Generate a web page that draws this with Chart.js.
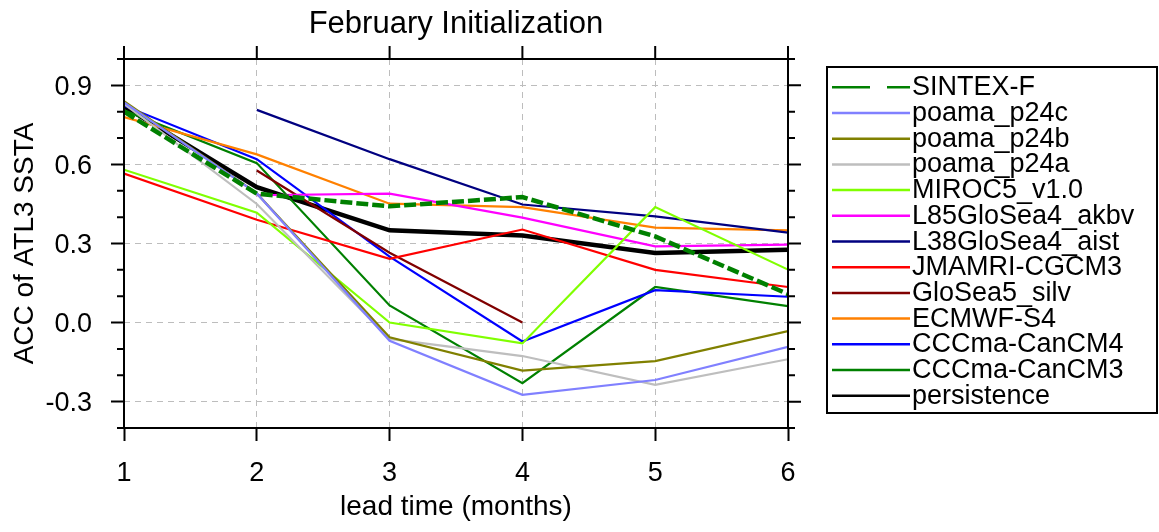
<!DOCTYPE html>
<html>
<head>
<meta charset="utf-8">
<script src="https://cdn.jsdelivr.net/npm/chart.js@4.4.1/dist/chart.umd.min.js"></script>
<style>
  html, body { margin: 0; padding: 0; background: #fff; }
  canvas { display: block; }
</style>
</head>
<body>
<canvas id="accChart" width="1159" height="532"></canvas>
<script>
// lead times (months) and tick values
const leadTimes = [1, 2, 3, 4, 5, 6];
const yTickValues = [-0.3, 0.0, 0.3, 0.6, 0.9];
const yMinorTicks = [-0.4, -0.2, -0.1, 0.1, 0.2, 0.4, 0.5, 0.7, 0.8, 1.0];

// ACC values (null = no forecast at that lead)
const sintexF      = [0.80, 0.489, 0.441, 0.476, 0.327, 0.108];
const poamaP24c    = [0.835, 0.49, -0.069, -0.274, -0.218, -0.092];
const poamaP24b    = [0.84, 0.49, -0.056, -0.182, -0.146, -0.032];
const poamaP24a    = [0.83, 0.45, -0.062, -0.127, -0.236, -0.139];
const miroc5       = [0.58, 0.417, 0.0, -0.079, 0.438, 0.201];
const l85GloSea4   = [null, 0.483, 0.489, 0.398, 0.289, 0.296];
const l38GloSea4   = [null, 0.807, 0.62, 0.448, 0.403, 0.341];
const jmamri       = [0.565, 0.39, 0.242, 0.353, 0.20, 0.135];
const gloSea5      = [null, 0.577, 0.265, 0.0, null, null];
const ecmwf        = [0.78, 0.638, 0.451, 0.438, 0.36, 0.35];
const canCM4       = [0.823, 0.62, 0.25, -0.072, 0.123, 0.098];
const canCM3       = [0.805, 0.605, 0.065, -0.23, 0.135, 0.062];
const persistence  = [0.82, 0.514, 0.35, 0.33, 0.264, 0.276];

const FONT = "'Liberation Sans', Arial, Helvetica, sans-serif";

// Function to turn a value list into {x, y} points
function toPoints(values) {
    return values.map((v, i) => ({ x: leadTimes[i], y: v }));
}

// Function to build one line dataset
function makeSeries(label, values, color, width, dash, legendDash) {
    return {
        label: label,
        data: toPoints(values),
        borderColor: color,
        backgroundColor: color,
        borderWidth: width,
        borderDash: dash,
        legendDash: legendDash,
        pointRadius: 0,
        fill: false,
        spanGaps: false,
    };
}

// legend order (first one is drawn on top)
const datasets = [
    makeSeries('SINTEX-F', sintexF, '#008000', 4.5, [12, 4], [38, 17]),
    makeSeries('poama_p24c', poamaP24c, '#8080ff', 2.2, [], []),
    makeSeries('poama_p24b', poamaP24b, '#808000', 2.2, [], []),
    makeSeries('poama_p24a', poamaP24a, '#bebebe', 2.2, [], []),
    makeSeries('MIROC5_v1.0', miroc5, '#80ff00', 2.2, [], []),
    makeSeries('L85GloSea4_akbv', l85GloSea4, '#ff00ff', 2.2, [], []),
    makeSeries('L38GloSea4_aist', l38GloSea4, '#000080', 2.2, [], []),
    makeSeries('JMAMRI-CGCM3', jmamri, '#ff0000', 2.2, [], []),
    makeSeries('GloSea5_silv', gloSea5, '#800000', 2.2, [], []),
    makeSeries('ECMWF-S4', ecmwf, '#ff8000', 2.2, [], []),
    makeSeries('CCCma-CanCM4', canCM4, '#0000ff', 2.2, [], []),
    makeSeries('CCCma-CanCM3', canCM3, '#008000', 2.2, [], []),
    makeSeries('persistence', persistence, '#000000', 4.5, [], []),
];

// Plugin: frame, outward ticks on all sides, title and boxed legend
const ncarFrame = {
    id: 'ncarFrame',
    afterDraw(chart) {
        const ctx = chart.ctx;
        const a = chart.chartArea;
        const xs = chart.scales.x;
        const ys = chart.scales.y;
        ctx.save();
        ctx.strokeStyle = '#000';
        ctx.lineWidth = 2;
        ctx.setLineDash([]);
        ctx.strokeRect(a.left, a.top, a.right - a.left, a.bottom - a.top);

        ctx.beginPath();
        // top ticks
        leadTimes.forEach(v => {
            const px = xs.getPixelForValue(v);
            ctx.moveTo(px, a.top);
            ctx.lineTo(px, a.top - 13);
        });
        // right major ticks
        yTickValues.forEach(v => {
            const py = ys.getPixelForValue(v);
            ctx.moveTo(a.right, py);
            ctx.lineTo(a.right + 13, py);
        });
        // minor ticks left and right
        yMinorTicks.forEach(v => {
            const py = ys.getPixelForValue(v);
            ctx.moveTo(a.left, py);
            ctx.lineTo(a.left - 7, py);
            ctx.moveTo(a.right, py);
            ctx.lineTo(a.right + 7, py);
        });
        ctx.stroke();

        // title
        ctx.fillStyle = '#000';
        ctx.font = '31px ' + FONT;
        ctx.textAlign = 'center';
        ctx.textBaseline = 'alphabetic';
        ctx.fillText('February Initialization', (a.left + a.right) / 2, 33);

        // legend box
        const box = { left: 827, top: 67, right: 1157, bottom: 413 };
        ctx.strokeRect(box.left, box.top, box.right - box.left, box.bottom - box.top);
        ctx.font = '27px ' + FONT;
        ctx.textAlign = 'left';
        chart.data.datasets.forEach((ds, i) => {
            const rowY = 87.3 + i * 25.7;
            ctx.beginPath();
            ctx.strokeStyle = ds.borderColor;
            ctx.lineWidth = 2.5;
            ctx.setLineDash(ds.legendDash);
            ctx.moveTo(832, rowY);
            ctx.lineTo(910, rowY);
            ctx.stroke();
            ctx.setLineDash([]);
            ctx.fillText(ds.label, 912, rowY + 8);
        });
        ctx.restore();
    }
};

const ctx = document.getElementById('accChart').getContext('2d');
new Chart(ctx, {
    type: 'line',
    data: { datasets: datasets },
    options: {
        responsive: false,
        animation: false,
        layout: { padding: { left: 0, top: 59, right: 371, bottom: 0 } },
        elements: { line: { tension: 0 } },
        plugins: {
            legend: { display: false },
            title: { display: false },
            tooltip: { enabled: false },
        },
        scales: {
            x: {
                type: 'linear',
                min: 1,
                max: 6,
                afterBuildTicks: s => { s.ticks = leadTimes.map(v => ({ value: v })); },
                afterFit: s => { s.height = 104; },
                border: { display: false, dash: [6, 5] },
                grid: {
                    color: '#bdbdbd',
                    lineWidth: 1,
                    drawTicks: true,
                    tickLength: 13,
                    tickColor: '#000',
                    tickWidth: 2,
                },
                ticks: {
                    color: '#000',
                    font: { family: FONT, size: 27 },
                    padding: 16,
                    maxRotation: 0,
                    callback: v => String(v),
                },
                title: {
                    display: true,
                    text: 'lead time (months)',
                    color: '#000',
                    font: { family: FONT, size: 28 },
                    padding: { top: 0, bottom: 8 },
                },
            },
            y: {
                type: 'linear',
                min: -0.4,
                max: 1.0,
                afterBuildTicks: s => { s.ticks = yTickValues.map(v => ({ value: v })); },
                afterFit: s => { s.width = 124; },
                border: { display: false, dash: [6, 5] },
                grid: {
                    color: '#bdbdbd',
                    lineWidth: 1,
                    drawTicks: true,
                    tickLength: 13,
                    tickColor: '#000',
                    tickWidth: 2,
                },
                ticks: {
                    color: '#000',
                    font: { family: FONT, size: 27 },
                    padding: 19,
                    labelOffset: 2,
                    callback: v => v.toFixed(1),
                },
                title: {
                    display: true,
                    text: 'ACC of ATL3 SSTA',
                    color: '#000',
                    font: { family: FONT, size: 28 },
                    padding: { top: 8, bottom: 0 },
                },
            },
        },
    },
    plugins: [ncarFrame],
});
</script>
</body>
</html>
